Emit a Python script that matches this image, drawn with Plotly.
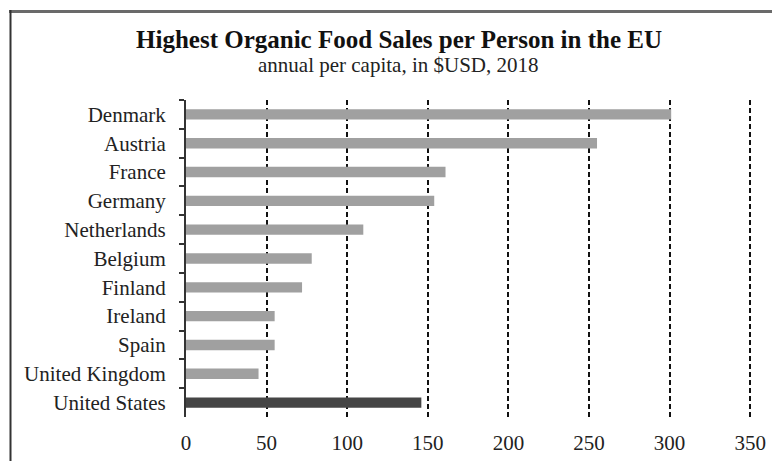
import plotly.graph_objects as go

countries = ["Denmark", "Austria", "France", "Germany", "Netherlands", "Belgium",
             "Finland", "Ireland", "Spain", "United Kingdom", "United States"]
sales = [301, 255, 161, 154, 110, 78, 72, 55, 55, 45, 146]
bar_colors = ["#a0a0a0"] * 10 + ["#454545"]
x_ticks = [0, 50, 100, 150, 200, 250, 300, 350]

# page body has an 8px margin; size the figure so it fills the 780x461 window
OFF = 8
W, H = 780 - OFF, 461 - OFF
ML, MR, MT, MB = 186 - OFF, 25, 100 - OFF, 44
FONT = "Liberation Serif, Times New Roman, serif"

fig = go.Figure(go.Bar(
    x=sales, y=countries, orientation="h",
    marker=dict(color=bar_colors, line=dict(width=0)),
))

pw = W - ML - MR
ph = H - MT - MB
def px_x(p):  # screen px -> paper
    return (p - OFF - ML) / pw
def px_y(p):
    return (H - MB - (p - OFF)) / ph

fig.update_layout(
    width=W, height=H,
    margin=dict(l=ML, r=MR, t=MT, b=MB, autoexpand=False),
    paper_bgcolor="white", plot_bgcolor="white",
    bargap=0.64,
    showlegend=False,
    font=dict(family=FONT, color="#222222", size=21),
    title=dict(text="<b>Highest Organic Food Sales per Person in the EU</b>",
               x=(399 - OFF) / W, xanchor="center", xref="container",
               y=1 - (39 - OFF) / H, yanchor="middle", yref="container",
               font=dict(family=FONT, size=25, color="#111111")),
    annotations=[dict(text="annual per capita, in $USD, 2018",
                      xref="paper", yref="paper",
                      x=px_x(398), y=px_y(65), xanchor="center", yanchor="middle",
                      showarrow=False, font=dict(family=FONT, size=21, color="#222222"))],
    shapes=[
        dict(type="line", xref="paper", yref="paper",
             x0=px_x(9), x1=px_x(790), y0=px_y(11.5), y1=px_y(11.5),
             line=dict(color="#6a6a6a", width=3)),
        dict(type="line", xref="paper", yref="paper",
             x0=px_x(10.5), x1=px_x(10.5), y0=px_y(10), y1=px_y(470),
             line=dict(color="#333333", width=2)),
    ],
)

fig.update_xaxes(
    range=[0, 353], tickvals=x_ticks, ticktext=[str(v) for v in x_ticks],
    showgrid=True, gridcolor="#111111", gridwidth=1.5, griddash="5px,3px",
    zeroline=False, showline=False, ticks="", ticklabelstandoff=11,
    automargin=False,
    tickfont=dict(family=FONT, size=21, color="#222222"), fixedrange=True,
)
fig.update_yaxes(
    categoryorder="array", categoryarray=countries, autorange="reversed",
    showline=True, linecolor="#333333", linewidth=2,
    ticks="outside", tickson="boundaries", ticklen=5, tickwidth=2, tickcolor="#333333",
    ticklabelstandoff=14, showgrid=False, zeroline=False, automargin=False,
    tickfont=dict(family=FONT, size=21, color="#222222"), fixedrange=True,
)

fig.write_html("out.html")
